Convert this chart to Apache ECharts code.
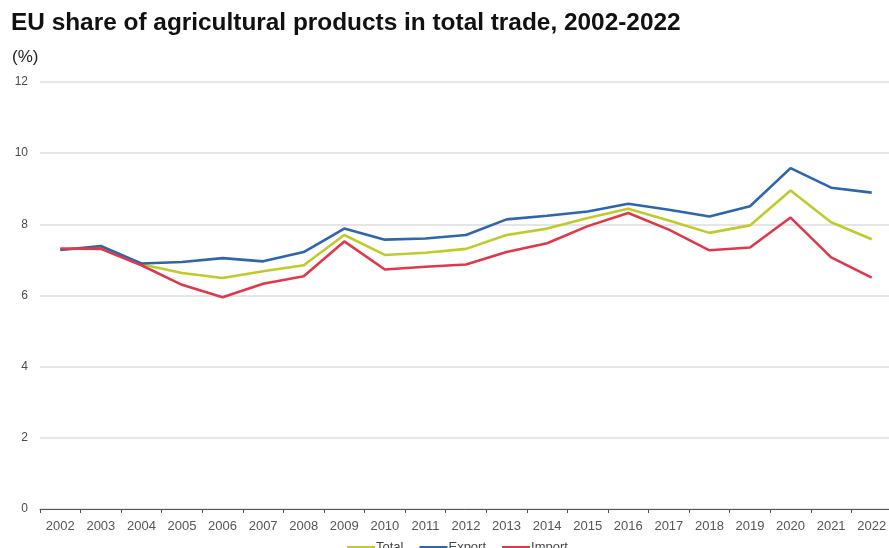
<!DOCTYPE html>
<html>
<head>
<meta charset="utf-8">
<script src="https://cdn.jsdelivr.net/npm/echarts@6/dist/echarts.min.js"></script>
<style>
  html, body { margin: 0; padding: 0; background: #fff; }
  #chart { width: 889px; height: 548px; }
</style>
</head>
<body>
<div id="chart"></div>
<script>
// Years on the category axis
const years = ['2002','2003','2004','2005','2006','2007','2008','2009','2010','2011',
  '2012','2013','2014','2015','2016','2017','2018','2019','2020','2021','2022'];

// Share of agricultural products in trade (%)
const totalShare  = [7.30, 7.33, 6.88, 6.63, 6.49, 6.68, 6.85, 7.70, 7.14, 7.20, 7.31,
  7.70, 7.88, 8.18, 8.44, 8.11, 7.76, 7.97, 8.95, 8.06, 7.58];
const exportShare = [7.28, 7.39, 6.90, 6.94, 7.05, 6.96, 7.22, 7.88, 7.57, 7.60, 7.70,
  8.14, 8.24, 8.36, 8.58, 8.41, 8.22, 8.51, 9.58, 9.03, 8.89];
const importShare = [7.32, 7.31, 6.85, 6.30, 5.95, 6.33, 6.54, 7.52, 6.73, 6.81, 6.87,
  7.22, 7.47, 7.95, 8.32, 7.85, 7.27, 7.35, 8.19, 7.07, 6.50];

const yTicks = { min: 0, max: 12, step: 2 };

const font = 'Liberation Sans, Arial, sans-serif';
const chart = echarts.init(document.getElementById('chart'), null, { renderer: 'canvas' });

chart.setOption({
  animation: false,
  backgroundColor: '#ffffff',
  title: [
    {
      text: 'EU share of agricultural products in total trade, 2002-2022',
      left: 6, top: 6,
      textStyle: { fontFamily: font, fontSize: 24.4, fontWeight: 'bold', color: '#111' }
    },
    {
      text: '(%)',
      left: 7, top: 44,
      textStyle: { fontFamily: font, fontSize: 17, fontWeight: 'normal', color: '#222' }
    }
  ],
  legend: {
    top: 536,
    left: 342,
    icon: 'rect',
    itemWidth: 28,
    itemHeight: 3,
    itemGap: 16,
    textStyle: { fontFamily: font, fontSize: 13, color: '#444', padding: [0, 0, 0, -4] },
    data: ['Total', 'Export', 'Import']
  },
  grid: {
    left: 40, top: 82, width: 852, height: 427,
    containLabel: false,
    outerBoundsMode: 'none'
  },
  xAxis: {
    type: 'category',
    data: years,
    boundaryGap: true,
    axisLine: { lineStyle: { color: '#555', width: 1 } },
    axisTick: { show: true, length: 4, interval: 0, lineStyle: { color: '#555' } },
    axisLabel: { interval: 0, margin: 11, fontFamily: font, fontSize: 13, color: '#555' },
    splitLine: { show: false }
  },
  yAxis: {
    type: 'value',
    min: yTicks.min, max: yTicks.max, interval: yTicks.step,
    axisLine: { show: false },
    axisTick: { show: false },
    axisLabel: { margin: 12, fontFamily: font, fontSize: 12, color: '#4a4a4a' },
    splitLine: { lineStyle: { color: '#dcdcdc', width: 1.5 } }
  },
  series: [
    {
      name: 'Total', type: 'line', data: totalShare,
      showSymbol: false, symbol: 'none',
      lineStyle: { color: '#bfcb2a', width: 2.6 }, itemStyle: { color: '#bfcb2a' }
    },
    {
      name: 'Export', type: 'line', data: exportShare,
      showSymbol: false, symbol: 'none',
      lineStyle: { color: '#2e65ad', width: 2.6 }, itemStyle: { color: '#2e65ad' }
    },
    {
      name: 'Import', type: 'line', data: importShare,
      showSymbol: false, symbol: 'none',
      lineStyle: { color: '#e0384a', width: 2.6 }, itemStyle: { color: '#e0384a' }
    }
  ]
});
</script>
</body>
</html>
